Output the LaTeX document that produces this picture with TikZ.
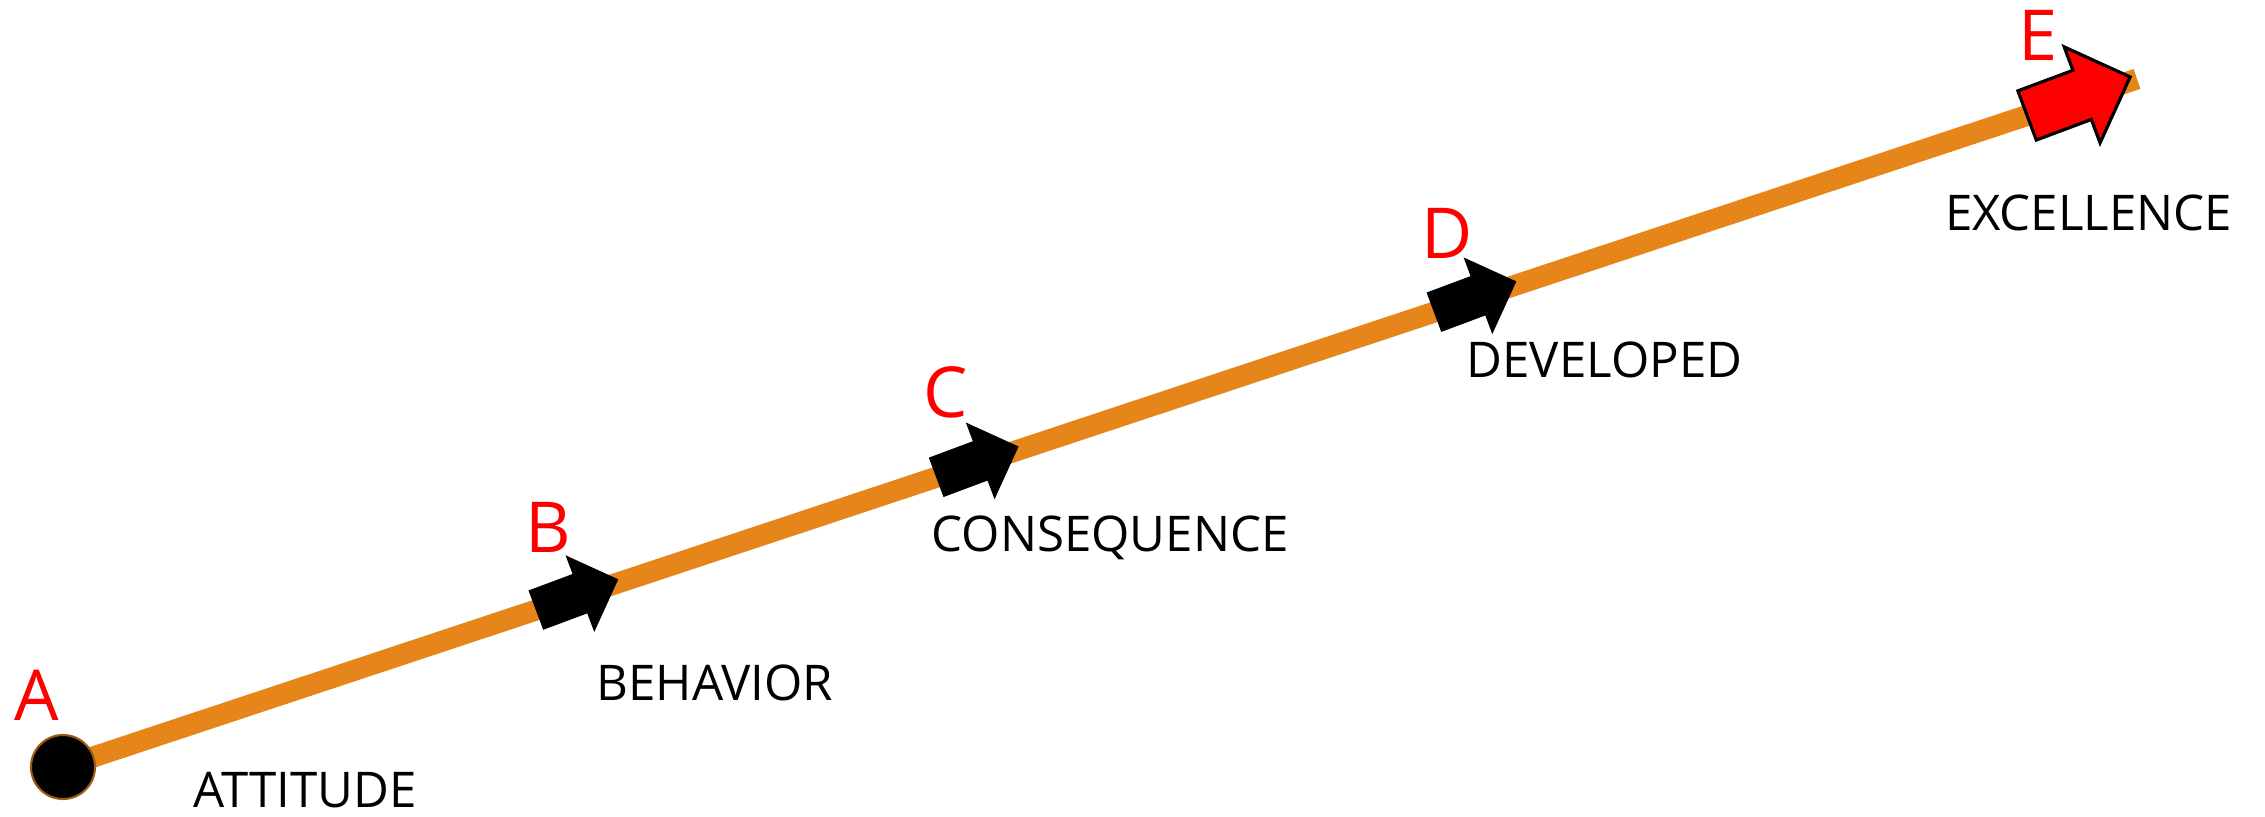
\documentclass[tikz,border=0pt]{standalone}
\usepackage{fontspec}
\setmainfont{Open Sans}
\usepackage{tikz}

\definecolor{trailorange}{HTML}{E5851A}
\definecolor{dotrim}{HTML}{9C5A14}

\tikzset{
    trail/.style={line width=0.21cm, trailorange},
    dot/.style={circle, fill=black, draw=dotrim, line width=0.6pt, minimum size=0.64cm, inner sep=0},
    letter/.style={anchor=base, inner sep=0, text depth=0pt, text=red, font=\fontsize{20}{24}\selectfont},
    stage/.style={anchor=base west, inner sep=0, text depth=0pt, font=\fontsize{14}{17}\selectfont},
    pics/blockarrow/.style={code={
        \path[pic actions] (0,0.21) -- (0.47,0.21) -- (0.47,0.41) -- (0.88,0)
            -- (0.47,-0.41) -- (0.47,-0.21) -- (0,-0.21) -- cycle;
    }},
}

\begin{document}
\begin{tikzpicture}
    \useasboundingbox (0,0) rectangle (22.65,8.16);

    % the path up
    \coordinate (start) at (0.63,0.49);
    \coordinate (top) at (21.37,7.37);
    \draw[trail] (start) -- coordinate[pos=0.228] (b) coordinate[pos=0.421] (c)
        coordinate[pos=0.661] (d) coordinate[pos=0.947] (e) (top);
    \node[dot] (attitude) at (start) {};

    % arrows along the path
    \pic[fill=black, rotate=20.5] at (b) {blockarrow};
    \pic[fill=black, rotate=20.5] at (c) {blockarrow};
    \pic[fill=black, rotate=20.5] at (d) {blockarrow};
    \pic[fill=red, draw=black, line width=0.9pt, rotate=20.5, scale=1.25] at (e) {blockarrow};

    % Letters
    \node[letter] (la) at (0.37,0.96) {A};
    \node[letter] (lb) at (5.48,2.64) {B};
    \node[letter] (lc) at (9.46,3.99) {C};
    \node[letter] (ld) at (14.47,5.58) {D};
    \node[letter] (le) at (20.38,7.56) {E};

    % Stages
    \node[stage] (sa) at (1.93,0.09) {ATTITUDE};
    \node[stage] (sb) at (5.96,1.16) {BEHAVIOR};
    \node[stage] (sc) at (9.31,2.65) {CONSEQUENCE};
    \node[stage] (sd) at (14.66,4.39) {DEVELOPED};
    \node[stage, anchor=base east] (se) at (22.33,5.86) {EXCELLENCE};
\end{tikzpicture}
\end{document}
